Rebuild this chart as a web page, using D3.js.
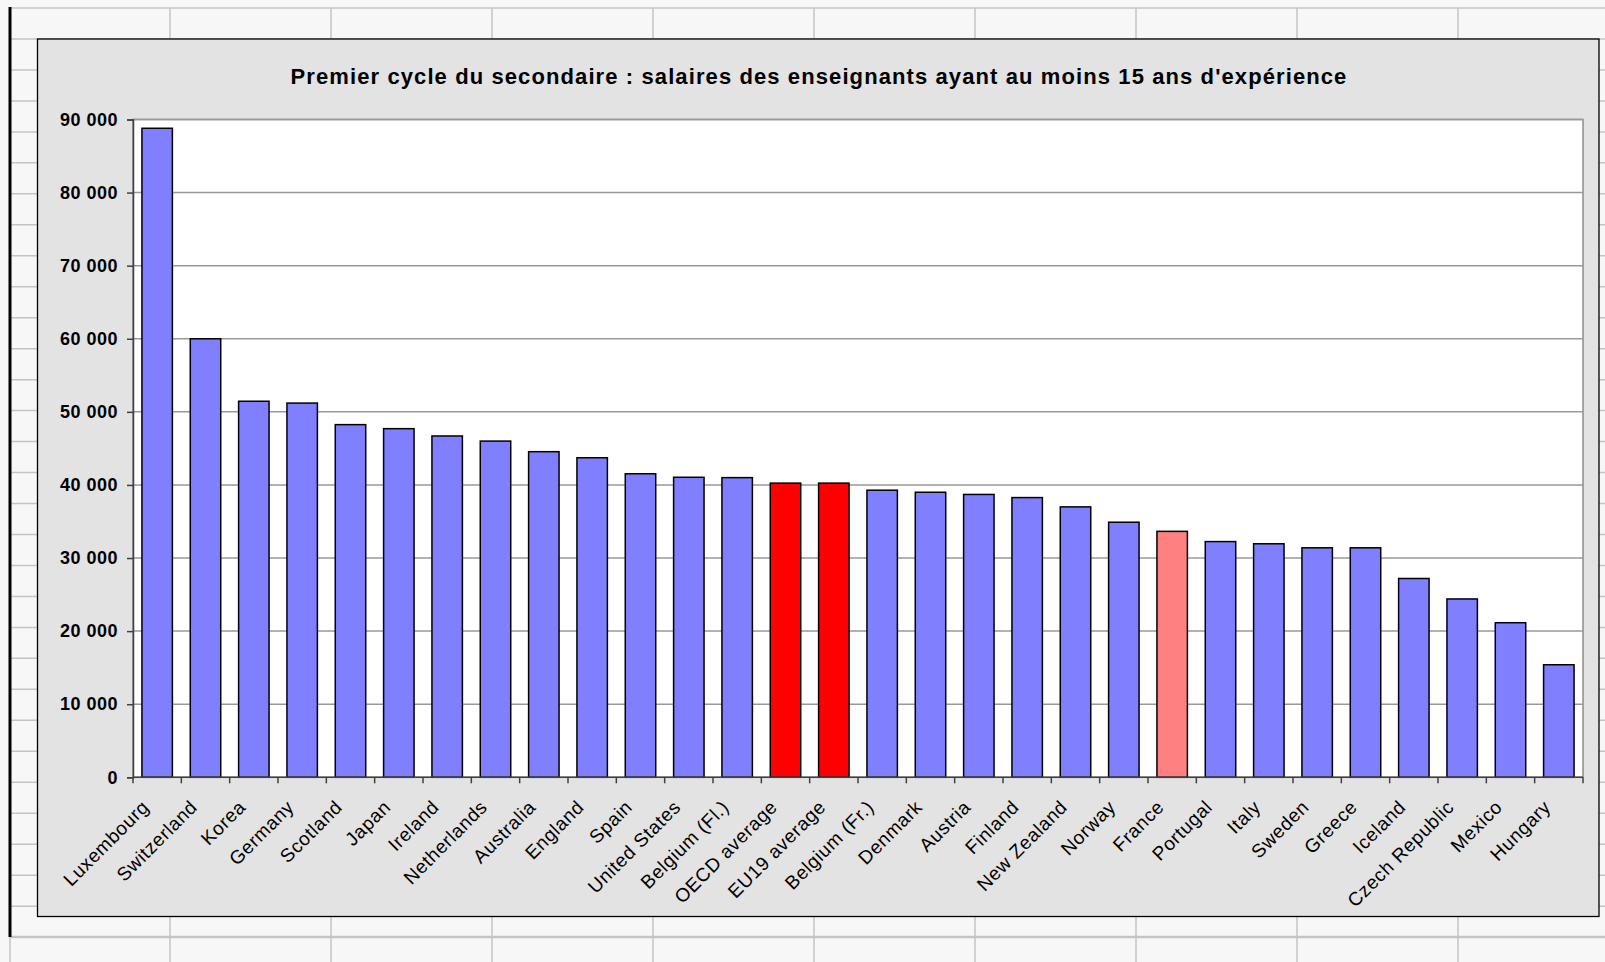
<!DOCTYPE html>
<html>
 <head>
  <meta charset="utf-8">
  <script src="https://d3js.org/d3.v7.min.js"></script>
  <style>
   body { margin: 0; background: #f7f7f7; }
   text { font-family: Arial, "Liberation Sans", sans-serif; }
  </style>
 </head>
 <body>
  <div id="chart"></div>
  <script type="text/javascript">
   // countries, in the order of the chart
   var countries = ["Luxembourg","Switzerland","Korea","Germany","Scotland","Japan","Ireland",
     "Netherlands","Australia","England","Spain","United States","Belgium (Fl.)","OECD average",
     "EU19 average","Belgium (Fr.)","Denmark","Austria","Finland","New Zealand","Norway","France",
     "Portugal","Italy","Sweden","Greece","Iceland","Czech Republic","Mexico","Hungary"];
   // salaries after 15 years of experience
   var salaries = [88800,60000,51450,51200,48250,47700,46700,46000,44550,43720,41530,41050,41000,
     40250,40250,39280,39000,38700,38270,37000,34900,33650,32250,31950,31400,31400,27200,24400,
     21150,15400];
   var averages = ["OECD average","EU19 average"];
   var highlight = ["France"];
   var yTicks = [0,10000,20000,30000,40000,50000,60000,70000,80000,90000];
   var title = "Premier cycle du secondaire : salaires des enseignants ayant au moins 15 ans d'expérience";

   var W = 1605, H = 962;
   var svg = d3.select("#chart").append("svg").attr("width", W).attr("height", H);

   // spreadsheet grid behind the chart
   var grid = svg.append("g");
   grid.append("rect").attr("width", W).attr("height", H).attr("fill", "#f7f7f7");
   d3.range(0, 31).forEach(function (k) {
     grid.append("line").attr("x1", 10).attr("x2", W).attr("y1", 8 + k * 30.97).attr("y2", 8 + k * 30.97)
       .attr("stroke", "#c4c4c4").attr("stroke-width", k == 30 ? 2.5 : 1.5);
   });
   d3.range(0, 9).forEach(function (k) {
     grid.append("line").attr("x1", 170 + k * 161).attr("x2", 170 + k * 161).attr("y1", 8).attr("y2", H)
       .attr("stroke", "#c4c4c4").attr("stroke-width", 1.5);
   });
   grid.append("line").attr("x1", 10).attr("x2", 10).attr("y1", 937).attr("y2", H)
     .attr("stroke", "#c4c4c4").attr("stroke-width", 1.5);
   grid.append("line").attr("x1", 10).attr("x2", 10).attr("y1", 7).attr("y2", 937)
     .attr("stroke", "#000").attr("stroke-width", 3);

   // chart area
   svg.append("rect").attr("x", 37.5).attr("y", 39).attr("width", 1561.5).attr("height", 877.5)
     .attr("fill", "#e3e3e3").attr("stroke", "#000").attr("stroke-width", 1.3);

   svg.append("text").attr("x", 819).attr("y", 84).attr("text-anchor", "middle")
     .style("font-size", "22px").style("font-weight", "bold").style("letter-spacing", "1.1px")
     .text(title);

   var pLeft = 133, pRight = 1583, pTop = 119.5, pBottom = 777.3;

   var x = d3.scaleBand().domain(countries).range([pLeft, pRight]).paddingInner(0.37).paddingOuter(0.185);
   var y = d3.scaleLinear().domain([0, 90000]).range([pBottom, pTop]);

   svg.append("rect").attr("x", pLeft).attr("y", pTop).attr("width", pRight - pLeft).attr("height", pBottom - pTop)
     .attr("fill", "#fff").attr("stroke", "#8c8c8c").attr("stroke-width", 1.5);

   // horizontal gridlines
   svg.append("g").selectAll("line").data(yTicks.slice(1)).enter().append("line")
     .attr("x1", pLeft).attr("x2", pRight).attr("y1", function (d) { return y(d); })
     .attr("y2", function (d) { return y(d); })
     .attr("stroke", "#999").attr("stroke-width", 1.5);

   // bars
   svg.append("g").selectAll("rect").data(countries).enter().append("rect")
     .attr("x", function (d) { return x(d); })
     .attr("width", x.bandwidth())
     .attr("y", function (d, i) { return y(salaries[i]); })
     .attr("height", function (d, i) { return pBottom - y(salaries[i]); })
     .attr("fill", function (d) {
       if (averages.indexOf(d) >= 0) return "#ff0000";
       if (highlight.indexOf(d) >= 0) return "#ff8080";
       return "#8080ff";
     })
     .attr("stroke", "#000").attr("stroke-width", 1.5);

   // y axis
   var fmt = function (d) { return d3.format(",")(d).replace(/,/g, " "); };
   var yAxis = svg.append("g").attr("transform", "translate(" + pLeft + ",0)")
     .call(d3.axisLeft(y).tickValues(yTicks).tickSize(6).tickPadding(9).tickFormat(fmt));
   yAxis.select(".domain").attr("stroke", "#404040").attr("stroke-width", 1.5);
   yAxis.selectAll(".tick line").attr("stroke", "#404040").attr("stroke-width", 1.5);
   yAxis.selectAll("text").style("font-size", "18px").style("font-weight", "bold")
     .style("letter-spacing", "0.5px")
     .style("font-family", "Arial, 'Liberation Sans', sans-serif").attr("fill", "#000");

   // x axis with ticks between categories
   var xa = svg.append("g");
   xa.append("line").attr("x1", pLeft).attr("x2", pRight).attr("y1", pBottom).attr("y2", pBottom)
     .attr("stroke", "#404040").attr("stroke-width", 1.5);
   var edges = countries.map(function (d) { return x(d) - x.step() * x.paddingInner() / 2; });
   edges.push(pRight);
   xa.selectAll("line.tk").data(edges).enter().append("line").attr("class", "tk")
     .attr("x1", function (d) { return d; }).attr("x2", function (d) { return d; })
     .attr("y1", pBottom).attr("y2", pBottom + 6)
     .attr("stroke", "#404040").attr("stroke-width", 1.5);
   xa.selectAll("text").data(countries).enter().append("text")
     .attr("text-anchor", "end")
     .attr("transform", function (d) {
       var cx = x(d) + x.bandwidth() / 2 - 7;
       return "translate(" + cx + "," + (pBottom + 31) + ") rotate(-45)";
     })
     .style("font-size", "19px").style("letter-spacing", "0.6px")
     .text(function (d) { return d; });
  </script>
 </body>
</html>
